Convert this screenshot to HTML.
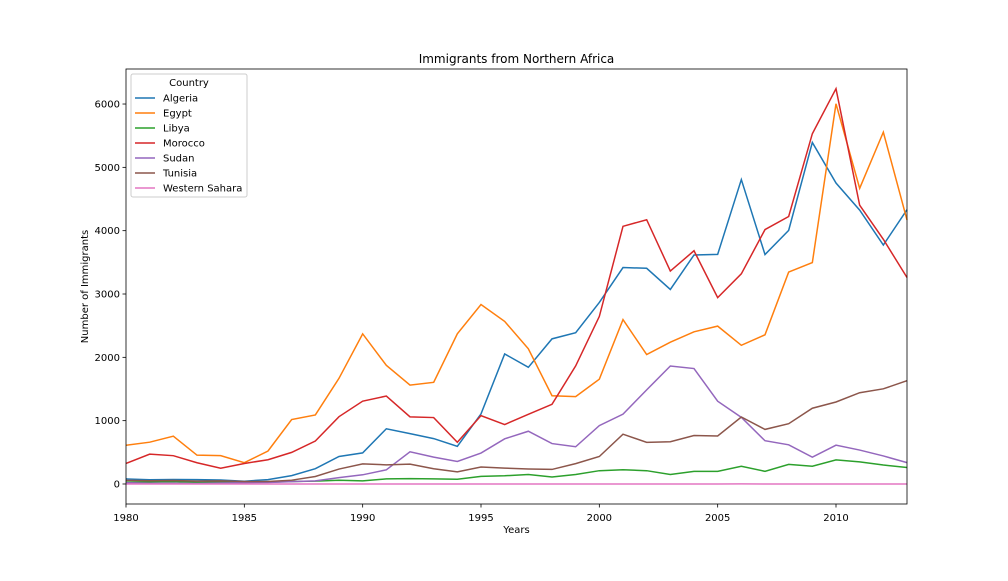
<!DOCTYPE html>
<html><head><meta charset="utf-8"><style>
body{margin:0;background:#fff;}
svg text{font-family:"DejaVu Sans","Liberation Sans",sans-serif;fill:#000;}
</style></head><body>
<svg id="chart" width="1008" height="576" xmlns="http://www.w3.org/2000/svg">
<rect width="1008" height="576" fill="#fff"/>
<g id="plot"></g>
</svg>
<script>
const years = [];
for (let y = 1980; y <= 2013; y++) years.push(y);
const algeria = [80,67,71,69,63,44,69,132,242,434,491,872,795,717,595,1106,2054,1842,2292,2389,2867,3418,3406,3072,3616,3626,4807,3623,4005,5393,4752,4325,3774,4331];
const egypt = [612,660,755,455,447,336,521,1018,1090,1669,2371,1873,1562,1605,2372,2834,2567,2135,1393,1380,1655,2596,2044,2239,2403,2493,2190,2356,3346,3496,6004,4669,5556,4170];
const libya = [30,35,40,25,30,35,30,40,45,60,50,80,85,80,75,120,130,150,110,150,210,225,210,150,200,200,280,200,310,280,380,350,300,260];
const morocco = [325,471,447,335,248,324,383,499,679,1063,1308,1389,1060,1049,659,1079,939,1100,1258,1864,2646,4069,4173,3363,3683,2943,3319,4017,4224,5531,6242,4402,3864,3260];
const sudan = [20,12,11,7,16,20,24,37,49,101,145,224,509,424,356,489,713,833,638,588,922,1103,1486,1863,1823,1307,1052,683,619,424,613,536,443,337];
const tunisia = [58,51,55,46,50,40,39,60,118,236,318,302,314,241,191,268,250,237,230,322,434,786,658,667,765,758,1058,862,952,1196,1295,1441,1503,1631];
const wsahara = [0,0,0,0,0,0,0,0,0,0,0,0,0,0,0,0,0,0,0,0,0,0,0,0,0,0,1,0,0,0,0,0,0,0];
const seriesNames = ["Algeria","Egypt","Libya","Morocco","Sudan","Tunisia","Western Sahara"];
const seriesData = [algeria,egypt,libya,morocco,sudan,tunisia,wsahara];
const colors = ["#1f77b4","#ff7f0e","#2ca02c","#d62728","#9467bd","#8c564b","#e377c2"];
const xTicks = [1980,1985,1990,1995,2000,2005,2010];
const yTicks = [0,1000,2000,3000,4000,5000,6000];

const L=126,R=907,T=69,B=504;
const x0=1980,x1=2013,y0=-316,y1=6553;
const sx=v=>L+(v-x0)/(x1-x0)*(R-L);
const sy=v=>B-(v-y0)/(y1-y0)*(B-T);
const NS="http://www.w3.org/2000/svg";
const g=document.getElementById('plot');
function mk(tag,attrs,parent){const e=document.createElementNS(NS,tag);for(const k in attrs)e.setAttribute(k,attrs[k]);(parent||g).appendChild(e);return e;}

seriesData.forEach((d,i)=>{
  const p=mk('polyline',{points:d.map((v,j)=>sx(years[j])+','+sy(v)).join(' '),fill:'none',stroke:colors[i],'stroke-width':1.5});
  
  
});
const frame=mk('rect',{x:L,y:T,width:R-L,height:B-T,fill:'none',stroke:'#000','stroke-width':0.8});


xTicks.forEach(t=>{
  mk('line',{x1:sx(t),x2:sx(t),y1:B,y2:B+3.5,stroke:'#000','stroke-width':0.8});
  const tx=mk('text',{x:sx(t),y:B+17,'text-anchor':'middle','font-size':10});
  tx.textContent=t;
  
  
});
yTicks.forEach(t=>{
  mk('line',{x1:L-3.5,x2:L,y1:sy(t),y2:sy(t),stroke:'#000','stroke-width':0.8});
  const tx=mk('text',{x:L-6,y:sy(t)+3.5,'text-anchor':'end','font-size':10});
  tx.textContent=t;
  
  
});
const title=mk('text',{x:(L+R)/2,y:63,'text-anchor':'middle','font-size':12});
title.textContent='Immigrants from Northern Africa';


const xt=mk('text',{x:(L+R)/2,y:533,'text-anchor':'middle','font-size':10});
xt.textContent='Years';


const yt=mk('text',{x:88,y:(T+B)/2,'text-anchor':'middle','font-size':10,transform:'rotate(-90 88 '+((T+B)/2)+')'});
yt.textContent='Number of Immigrants';



const lg=mk('g',{});


mk('rect',{x:131,y:74,width:116,height:123,fill:'#fff',stroke:'#ccc','stroke-width':1,rx:2},lg);
const lt=mk('text',{x:189,y:86,'text-anchor':'middle','font-size':10},lg);
lt.textContent='Country';
seriesNames.forEach((n,i)=>{
  const yy=98+i*15;
  const e=mk('g',{},lg);
  
  
  mk('line',{x1:135,x2:155,y1:yy,y2:yy,stroke:colors[i],'stroke-width':1.5},e);
  const t=mk('text',{x:163,y:yy+3.5,'font-size':10},e);
  t.textContent=n;
});
</script>
</body></html>
